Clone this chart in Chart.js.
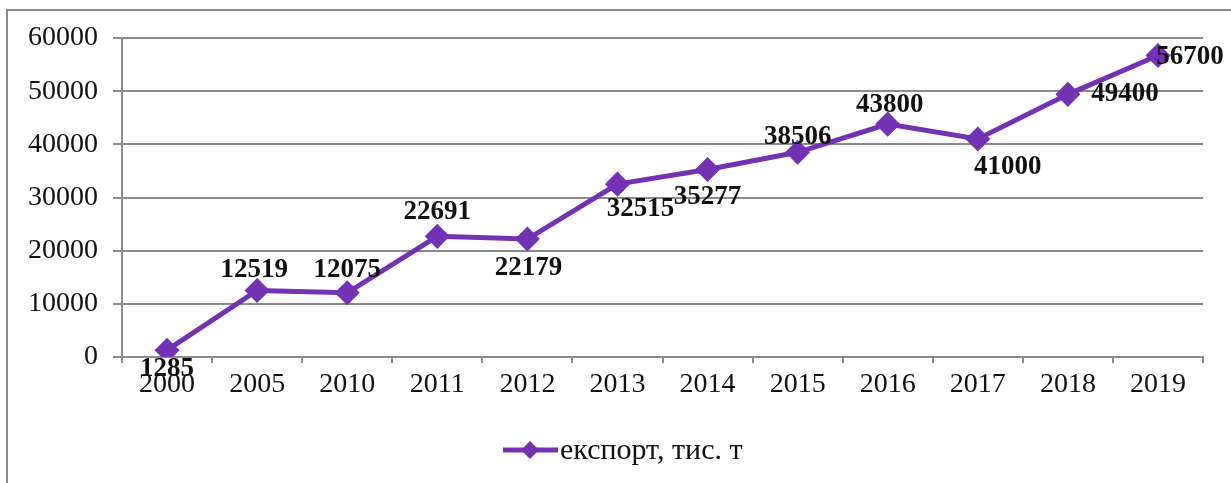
<!DOCTYPE html>
<html>
<head>
<meta charset="utf-8">
<script src="https://cdn.jsdelivr.net/npm/chart.js@4/dist/chart.umd.min.js"></script>
<style>
    html, body { margin: 0; padding: 0; background: #fff; }
    #wrap { position: relative; width: 1231px; height: 483px; }
</style>
</head>
<body>
<div id="wrap"><canvas id="chart" width="1231" height="483"></canvas></div>
<script>
// ---------------------------------------------------------------------------
// Data
// ---------------------------------------------------------------------------
const years   = ['2000', '2005', '2010', '2011', '2012', '2013', '2014', '2015', '2016', '2017', '2018', '2019'];
const exports = [1285, 12519, 12075, 22691, 22179, 32515, 35277, 38506, 43800, 41000, 49400, 56700];
const seriesName = 'експорт, тис. т';

// label offsets from each point (px), as placed in the original
const labelDx = [0, -3, 0, 0, 1, 23, 0, 0, 2, 30, 57, 32];
const labelDy = [19, -20, -23, -24, 29, 25, 28, -15, -19, 28, 0, 1];

const PURPLE = '#7332b4';
const GRID   = '#8c8c8c';
const SERIF  = '"Liberation Serif", "Times New Roman", serif';

// ---------------------------------------------------------------------------
// Plugins: frame, value labels, legend
// ---------------------------------------------------------------------------
const framePlugin = {
    id: 'frame',
    beforeDraw(chart) {
        const ctx = chart.ctx;
        ctx.save();
        ctx.strokeStyle = '#8a8a8a';
        ctx.lineWidth = 2;
        ctx.beginPath();
        ctx.moveTo(7, 483);
        ctx.lineTo(7, 10);
        ctx.lineTo(1231, 10);
        ctx.stroke();
        ctx.restore();
    },
};

const valueLabels = {
    id: 'valueLabels',
    afterDatasetsDraw(chart) {
        const ctx  = chart.ctx;
        const meta = chart.getDatasetMeta(0);
        ctx.save();
        ctx.font = `bold 27px ${SERIF}`;
        ctx.fillStyle = '#111';
        ctx.textAlign = 'center';
        ctx.textBaseline = 'middle';
        meta.data.forEach((pt, i) => {
            ctx.fillText(String(exports[i]), pt.x + labelDx[i], pt.y + labelDy[i]);
        });
        ctx.restore();
    },
};

const bottomLegend = {
    id: 'bottomLegend',
    afterDraw(chart) {
        const ctx = chart.ctx;
        const y = 450;
        ctx.save();
        ctx.strokeStyle = PURPLE;
        ctx.lineWidth = 5;
        ctx.beginPath();
        ctx.moveTo(503, y);
        ctx.lineTo(558, y);
        ctx.stroke();
        ctx.fillStyle = PURPLE;
        ctx.beginPath();
        ctx.moveTo(530, y - 9);
        ctx.lineTo(539, y);
        ctx.lineTo(530, y + 9);
        ctx.lineTo(521, y);
        ctx.closePath();
        ctx.fill();
        ctx.font = `30px ${SERIF}`;
        ctx.fillStyle = '#111';
        ctx.textBaseline = 'middle';
        ctx.fillText(seriesName, 560, y + 1);
        ctx.restore();
    },
};

// ---------------------------------------------------------------------------
// Chart
// ---------------------------------------------------------------------------
const ctx = document.getElementById('chart').getContext('2d');

new Chart(ctx, {
    type: 'line',
    data: {
        labels: years,
        datasets: [{
            label: seriesName,
            data: exports,
            borderColor: PURPLE,
            backgroundColor: PURPLE,
            borderWidth: 5,
            pointStyle: 'rectRot',
            pointRadius: 9,
            pointHoverRadius: 9,
            tension: 0,
        }],
    },
    options: {
        responsive: false,
        animation: false,
        layout: { padding: { top: 38, right: 28, bottom: 86, left: 0 } },
        plugins: {
            legend: { display: false },
            tooltip: { enabled: false },
        },
        scales: {
            x: {
                offset: true,
                afterFit: s => { s.height = 40; },
                grid: {
                    offset: true,
                    drawOnChartArea: false,
                    drawTicks: true,
                    tickLength: 6,
                    color: GRID,
                    lineWidth: 2,
                },
                border: { display: true, color: GRID, width: 2 },
                ticks: {
                    color: '#111',
                    padding: 5,
                    maxRotation: 0,
                    font: { family: SERIF, size: 28 },
                },
            },
            y: {
                min: 0,
                max: 60000,
                afterFit: s => { s.width = 122; },
                grid: {
                    color: GRID,
                    lineWidth: 2,
                    drawTicks: true,
                    tickLength: 9,
                },
                border: { display: true, color: GRID, width: 2 },
                ticks: {
                    stepSize: 10000,
                    color: '#111',
                    padding: 15,
                    font: { family: SERIF, size: 28 },
                    callback: v => String(v),
                },
            },
        },
    },
    plugins: [framePlugin, valueLabels, bottomLegend],
});
</script>
</body>
</html>
